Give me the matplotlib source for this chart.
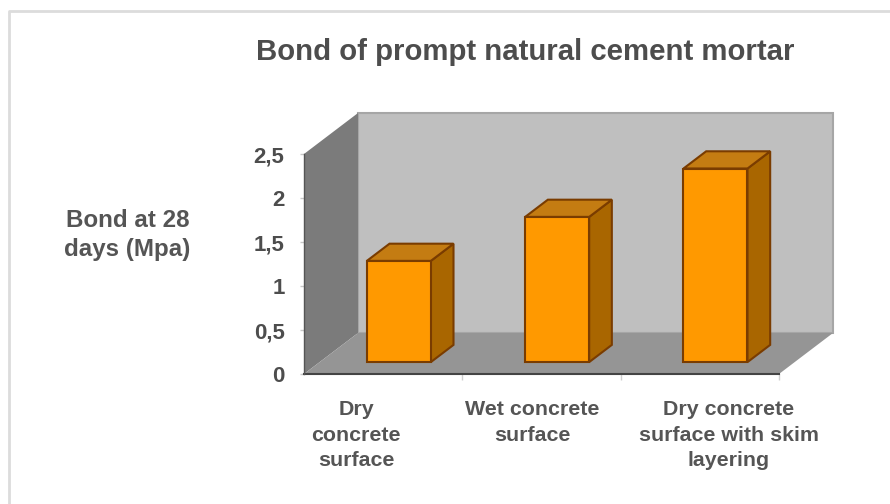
import matplotlib
matplotlib.use('Agg')
import matplotlib.pyplot as plt

categories = ['Dry\nconcrete\nsurface', 'Wet concrete\nsurface', 'Dry concrete\nsurface with skim\nlayering']
values = [1.15, 1.65, 2.2]
y_ticks = [0, 0.5, 1, 1.5, 2, 2.5]
y_tick_labels = ['0', '0,5', '1', '1,5', '2', '2,5']

W, H = 890, 504
plt.rcParams['font.family'] = ['Liberation Sans', 'DejaVu Sans']
plt.rcParams['font.weight'] = 'bold'

fig = plt.figure(figsize=(W / 100, H / 100), dpi=100)

# front plane of the 3d box, in pixels
left, right, top, bottom = 304, 779, 154, 374
ax = fig.add_axes([left / W, 1 - bottom / H, (right - left) / W, (bottom - top) / H])
ax.set_xlim(0, 3)
ax.set_ylim(0, 2.5)
ax.patch.set_visible(False)
for s in ax.spines.values():
    s.set_visible(False)

# depth of the box in data units
dx = 54 / ((right - left) / 3)
dy = 41 / ((bottom - top) / 2.5)

# walls and floor
ax.fill([dx, 3 + dx, 3 + dx, dx], [dy, dy, 2.5 + dy, 2.5 + dy], facecolor='#bfbfbf',
        edgecolor='#a6a6a6', linewidth=1.5, clip_on=False, zorder=1)
ax.fill([0, dx, dx, 0], [0, dy, 2.5 + dy, 2.5], facecolor='#7b7b7b', clip_on=False, zorder=1)
ax.fill([0, 3, 3 + dx, dx], [0, 0, dy, dy], facecolor='#959595', clip_on=False, zorder=1)
ax.plot([0, 3], [0, 0], color='#444444', lw=1.5, clip_on=False, zorder=2)
ax.plot([0, 0], [0, 2.5], color='#555555', lw=1.0, clip_on=False, zorder=2)

# bars
edge = '#7a3c00'
d_front, d_back = 0.29, 0.71
width = 64 / ((right - left) / 3)
for i, v in enumerate(values):
    xc = i + 0.5 + d_front * dx
    x0, x1 = xc - width / 2, xc + width / 2
    base = d_front * dy
    ax.bar(xc, v, width=width, bottom=base, color='#ff9900', edgecolor=edge, linewidth=1.5,
           zorder=4, clip_on=False)
    depth = d_back - d_front
    ax.fill([x1, x1 + depth * dx, x1 + depth * dx, x1],
            [base, base + depth * dy, base + v + depth * dy, base + v],
            facecolor='#a96600', edgecolor=edge, linewidth=1.5, clip_on=False, zorder=3)
    ax.fill([x0, x1, x1 + depth * dx, x0 + depth * dx],
            [base + v, base + v, base + v + depth * dy, base + v + depth * dy],
            facecolor='#c47c12', edgecolor=edge, linewidth=1.5, clip_on=False, zorder=3)

ax.set_yticks(y_ticks)
ax.set_yticklabels(y_tick_labels, fontsize=16, color='#4d4d4d')
ax.tick_params(axis='y', length=3, width=1, color='#c8c8c8', pad=11)
ax.set_xticks([1, 2, 3])
ax.set_xticklabels([])
ax.tick_params(axis='x', length=4, width=1, color='#d0d0d0', direction='out')

# category labels sit left of the ticks, as in the original
label_x = [356, 532, 729]
for name, x in zip(categories, label_x):
    fig.text(x / W, 1 - 400 / H, name, ha='center', va='top', fontsize=15.4, color='#555555',
             linespacing=1.44)

fig.text(525 / W, 1 - 52 / H, 'Bond of prompt natural cement mortar', ha='center', va='center',
         fontsize=21.2, color='#4d4d4d')
fig.text(127.5 / W, 1 - 235 / H, 'Bond at 28\ndays (Mpa)', ha='center', va='center', fontsize=17.4,
         color='#555555', linespacing=1.35)

# light frame around the picture
fig.add_artist(plt.Line2D([9 / W, 9 / W, 1], [0, 1 - 11 / H, 1 - 11 / H], color='#dcdcdc', lw=2))

fig.savefig('out.png', dpi=100)
